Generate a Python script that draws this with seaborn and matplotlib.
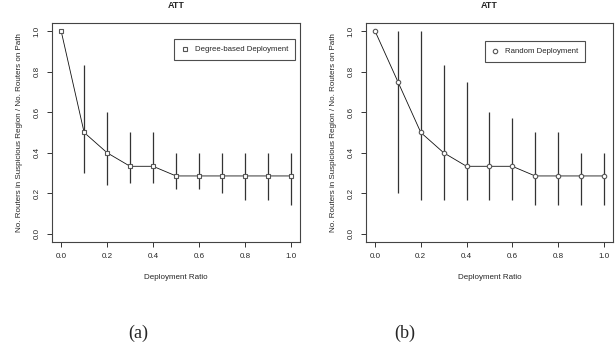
import numpy as np
import pandas as pd
import matplotlib
matplotlib.use("Agg")
import matplotlib.pyplot as plt
from matplotlib.lines import Line2D
import seaborn as sns

# deployment ratios shared by both panels
ratio = [0.0, 0.1, 0.2, 0.3, 0.4, 0.5, 0.6, 0.7, 0.8, 0.9, 1.0]

# (a) degree-based deployment
deg_mean = [1.0, 0.5, 0.4, 1/3, 1/3, 2/7, 2/7, 2/7, 2/7, 2/7, 2/7]
deg_low = [1.0, 0.3, 0.24, 0.25, 0.25, 0.222, 0.222, 0.2, 0.167, 0.167, 0.143]
deg_high = [1.0, 0.833, 0.6, 0.5, 0.5, 0.4, 0.4, 0.4, 0.4, 0.4, 0.4]

# (b) random deployment
rnd_mean = [1.0, 0.75, 0.5, 0.4, 1/3, 1/3, 1/3, 2/7, 2/7, 2/7, 2/7]
rnd_low = [1.0, 0.2, 0.167, 0.167, 0.167, 0.167, 0.167, 0.143, 0.143, 0.143, 0.143]
rnd_high = [1.0, 1.0, 1.0, 0.833, 0.75, 0.6, 0.571, 0.5, 0.5, 0.4, 0.4]

ticks = [0.0, 0.2, 0.4, 0.6, 0.8, 1.0]
tick_labels = ["0.0", "0.2", "0.4", "0.6", "0.8", "1.0"]

sns.set_theme(style="ticks")
plt.rcParams["font.family"] = ["Liberation Sans", "DejaVu Sans"]

fig = plt.figure(figsize=(6.16, 3.62), dpi=100)
ax_a = fig.add_axes([0.0844, 0.3315, 0.4026, 0.605])
ax_b = fig.add_axes([0.594, 0.3315, 0.401, 0.605])


def draw_panel(ax, mean, low, high, marker, label, legend_anchor):
    df = pd.DataFrame({"ratio": ratio, "mean": mean, "low": low, "high": high})
    # min/max range as plain vertical lines (no caps)
    ax.vlines(df["ratio"], df["low"], df["high"], color="#333333", lw=0.9, zorder=1)
    sns.lineplot(data=df, x="ratio", y="mean", ax=ax, color="#111111", lw=0.6,
                 marker=marker, markersize=3.2, markerfacecolor="white",
                 markeredgecolor="#555555", markeredgewidth=0.8, zorder=3)
    ax.set_xlim(-0.04, 1.04)
    ax.set_ylim(-0.04, 1.04)
    ax.set_xticks(ticks)
    ax.set_xticklabels(tick_labels)
    ax.set_yticks(ticks)
    ax.set_yticklabels(tick_labels, rotation=90, va="center")
    ax.tick_params(labelsize=5.8, length=3.5, width=0.7, color="#333333", pad=4.5)
    for sp in ax.spines.values():
        sp.set_visible(True)
        sp.set_color("#444444")
        sp.set_linewidth(0.8)
    ax.set_title("ATT", fontsize=6.5, fontweight="bold", pad=11)
    ax.set_xlabel("Deployment Ratio", fontsize=5.8, labelpad=10)
    ax.set_ylabel("No. Routers in Suspicious Region / No. Routers on Path",
                  fontsize=5.8, labelpad=8)
    handle = Line2D([], [], ls="none", marker=marker, markersize=3.2,
                    markerfacecolor="white", markeredgecolor="#555555",
                    markeredgewidth=0.8)
    leg = ax.legend([handle], [label], loc="upper right", bbox_to_anchor=legend_anchor,
                    fontsize=5.6, frameon=True, fancybox=False, borderpad=0.9,
                    handlelength=0.8, handletextpad=0.9, borderaxespad=0)
    leg.get_frame().set_edgecolor("#222222")
    leg.get_frame().set_linewidth(0.8)


draw_panel(ax_a, deg_mean, deg_low, deg_high, "s", "Degree-based Deployment", (0.98, 0.927))
draw_panel(ax_b, rnd_mean, rnd_low, rnd_high, "o", "Random Deployment", (0.887, 0.918))

fig.text(138 / 616, 1 - 333 / 362, "(a)", family="Liberation Serif", fontsize=13,
         ha="center", va="center")
fig.text(405 / 616, 1 - 333 / 362, "(b)", family="Liberation Serif", fontsize=13,
         ha="center", va="center")

fig.savefig("out.png", dpi=100)
